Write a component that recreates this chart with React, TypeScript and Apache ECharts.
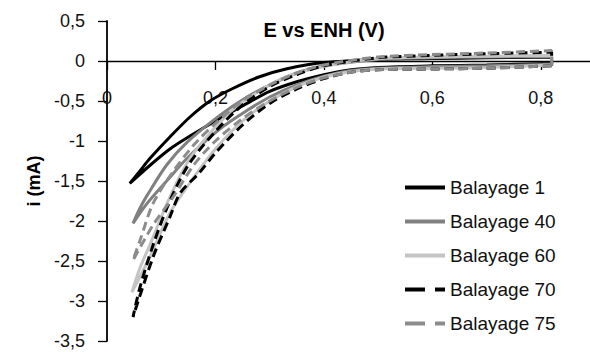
import React, { useEffect, useRef } from "react";
import * as echarts from "echarts";

const seriesNames = ["Balayage 1", "Balayage 40", "Balayage 60", "Balayage 70", "Balayage 75"];

const balayage1: number[][] = [
  [0.82, -0.03], [0.7, -0.05], [0.6, -0.06], [0.5, -0.08], [0.45, -0.11], [0.4, -0.17], [0.35, -0.26],
  [0.3, -0.38], [0.258, -0.53], [0.2, -0.75], [0.15, -0.95], [0.116, -1.1], [0.08, -1.3], [0.042, -1.53],
  [0.06, -1.38], [0.079, -1.22], [0.116, -0.95], [0.153, -0.7], [0.19, -0.5], [0.23, -0.35], [0.28, -0.2],
  [0.33, -0.1], [0.4, -0.02], [0.5, 0.02], [0.6, 0.03], [0.7, 0.04], [0.82, 0.05], [0.82, -0.03],
];
const balayage40: number[][] = [
  [0.82, -0.04], [0.7, -0.06], [0.6, -0.07], [0.5, -0.09], [0.45, -0.12], [0.4, -0.19], [0.35, -0.3],
  [0.3, -0.45], [0.258, -0.62], [0.208, -0.85], [0.15, -1.2], [0.11, -1.5], [0.074, -1.78], [0.048, -2.03],
  [0.06, -1.85], [0.074, -1.68], [0.11, -1.3], [0.147, -1.02], [0.208, -0.68], [0.258, -0.45], [0.3, -0.3],
  [0.35, -0.15], [0.4, -0.06], [0.5, 0.02], [0.6, 0.04], [0.7, 0.05], [0.82, 0.06], [0.82, -0.04],
];
const balayage60: number[][] = [
  [0.82, -0.05], [0.7, -0.08], [0.6, -0.09], [0.5, -0.1], [0.45, -0.13], [0.4, -0.2], [0.35, -0.32],
  [0.3, -0.5], [0.25, -0.75], [0.2, -1.1], [0.15, -1.55], [0.116, -1.9], [0.079, -2.45], [0.046, -2.89],
  [0.06, -2.6], [0.079, -2.3], [0.116, -1.7], [0.15, -1.25], [0.18, -0.98], [0.23, -0.62], [0.28, -0.38],
  [0.33, -0.2], [0.4, -0.07], [0.5, 0.03], [0.6, 0.05], [0.7, 0.06], [0.82, 0.07], [0.82, -0.05],
];
const balayage70: number[][] = [
  [0.82, -0.06], [0.7, -0.09], [0.6, -0.1], [0.5, -0.11], [0.45, -0.14], [0.4, -0.22], [0.35, -0.35],
  [0.3, -0.53], [0.25, -0.8], [0.2, -1.15], [0.17, -1.4], [0.135, -1.65], [0.116, -1.95], [0.085, -2.45],
  [0.048, -3.2], [0.06, -2.85], [0.085, -2.3], [0.116, -1.75], [0.15, -1.3], [0.2, -0.88], [0.25, -0.55],
  [0.3, -0.32], [0.35, -0.17], [0.4, -0.06], [0.5, 0.04], [0.6, 0.07], [0.7, 0.09], [0.82, 0.11], [0.82, -0.06],
];
const balayage75: number[][] = [
  [0.82, -0.06], [0.7, -0.09], [0.6, -0.1], [0.5, -0.11], [0.45, -0.14], [0.4, -0.21], [0.35, -0.33],
  [0.3, -0.5], [0.25, -0.72], [0.2, -1.0], [0.16, -1.3], [0.122, -1.7], [0.085, -2.05], [0.048, -2.49],
  [0.061, -2.24], [0.085, -1.78], [0.12, -1.4], [0.16, -1.05], [0.2, -0.78], [0.25, -0.5], [0.3, -0.3],
  [0.35, -0.15], [0.4, -0.05], [0.5, 0.05], [0.6, 0.08], [0.7, 0.1], [0.82, 0.13], [0.82, -0.06],
];

const seriesData = [balayage1, balayage40, balayage60, balayage70, balayage75];
const seriesColors = ["#000000", "#808080", "#c4c4c4", "#000000", "#8c8c8c"];
const seriesDashed = [false, false, false, true, true];

const xTitle = "E vs ENH (V)";
const yTitle = "i (mA)";

const FONT = "Liberation Sans, Arial, sans-serif";

function fmt(v: number): string {
  if (Math.abs(v) < 1e-9) return "0";
  return String(Math.round(v * 10) / 10).replace(".", ",");
}

export default function App() {
  const ref = useRef<HTMLDivElement>(null);
  useEffect(() => {
    if (!ref.current) return;
    const chart = echarts.init(ref.current, undefined, { renderer: "svg" });
    chart.setOption({
      animation: false,
      backgroundColor: "#ffffff",
      title: {
        text: xTitle,
        left: 324,
        top: 20,
        padding: 0,
        textAlign: "center",
        textStyle: { fontFamily: FONT, fontSize: 20, fontWeight: "bold", color: "#000" },
      },
      grid: {
        left: 107,
        top: 21,
        width: 488,
        height: 320,
        containLabel: false,
        outerBoundsMode: "none",
      },
      xAxis: {
        type: "value",
        min: 0,
        max: 0.9,
        interval: 0.2,
        position: "bottom",
        offset: -280,
        axisLine: { onZero: false, lineStyle: { color: "#000", width: 1.3 } },
        axisTick: { show: true, inside: false, length: 9, lineStyle: { color: "#000", width: 1.3 } },
        axisLabel: {
          margin: 28,
          formatter: (v: number) => fmt(v),
          fontFamily: FONT,
          fontSize: 18,
          color: "#111",
          showMaxLabel: false,
        },
        splitLine: { show: false },
      },
      yAxis: {
        type: "value",
        min: -3.5,
        max: 0.5,
        interval: 0.5,
        name: yTitle,
        nameLocation: "middle",
        nameGap: 62,
        nameRotate: 90,
        nameTextStyle: { fontFamily: FONT, fontSize: 18, fontWeight: "bold", color: "#000" },
        axisLine: { onZero: false, lineStyle: { color: "#000", width: 1.8 } },
        axisTick: { show: true, inside: false, length: 9, lineStyle: { color: "#000", width: 1.3 } },
        axisLabel: {
          margin: 22,
          formatter: (v: number) => fmt(v),
          fontFamily: FONT,
          fontSize: 18,
          color: "#111",
        },
        splitLine: { show: false },
      },
      legend: {
        orient: "vertical",
        left: 403,
        top: 178,
        padding: 0,
        itemWidth: 40,
        itemHeight: 14,
        itemGap: 15,
        itemStyle: { opacity: 0 },
        textStyle: { fontFamily: FONT, fontSize: 19, color: "#111" },
        data: seriesNames.map((n, i) => ({
          name: n,
          itemStyle: { opacity: 0 },
          lineStyle: seriesDashed[i] ? { type: [20, 10], width: 4 } : { width: 4 },
        })),
      },
      series: seriesNames.map((n, i) => ({
        name: n,
        type: "line",
        data: seriesData[i],
        symbol: "none",
        smooth: 0.3,
        color: seriesColors[i],
        lineStyle: {
          color: seriesColors[i],
          width: 3,
          type: seriesDashed[i] ? [9, 5] : "solid",
        },
      })),
    });
    return () => chart.dispose();
  }, []);
  return (
    <div
      ref={ref}
      style={{ position: "fixed", left: 0, top: 0, width: 590, height: 352, background: "#fff" }}
    />
  );
}
